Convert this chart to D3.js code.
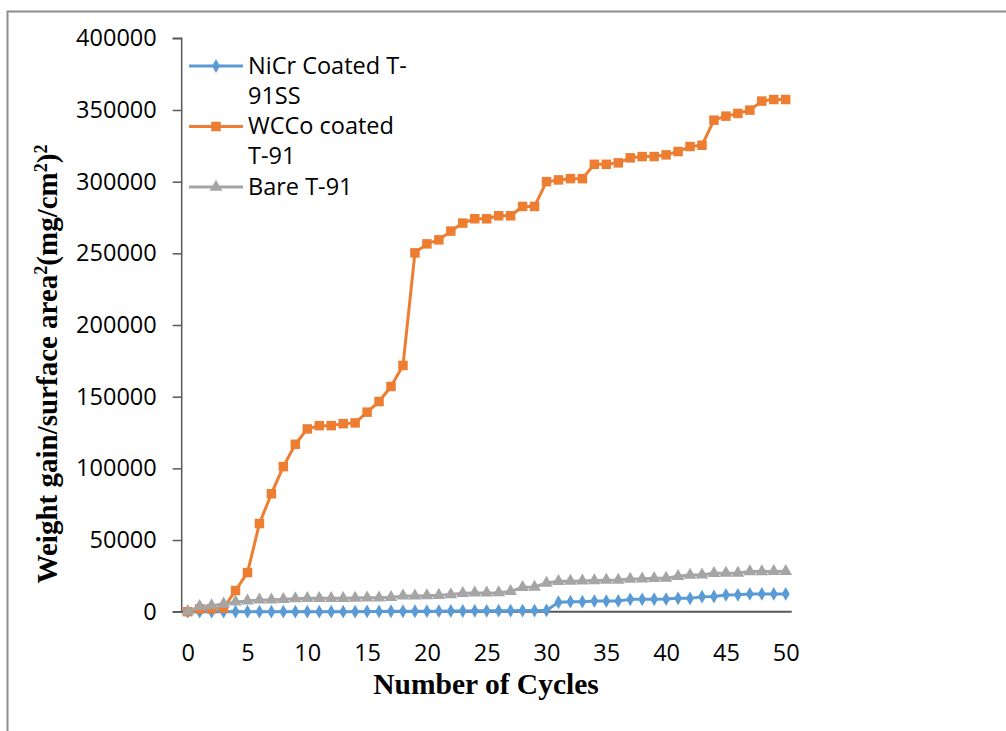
<!DOCTYPE html>
<html>
<head>
<meta charset="utf-8">
<script src="https://cdn.jsdelivr.net/npm/d3@7"></script>
<style>
  html, body { margin: 0; padding: 0; background: #fff; }
  svg { display: block; }
</style>
</head>
<body>
<svg id="chart" width="1006" height="731"></svg>
<script>
// ---- data ----
const cycles = d3.range(0, 51);
const seriesNames = ["NiCr Coated T-91SS", "WCCo coated T-91", "Bare T-91"];
const legendLines = [["NiCr Coated T-", "91SS"], ["WCCo coated", "T-91"], ["Bare T-91"]];
const nicr = [0, 0, 0, 0, 0, 0, 0, 0, 0, 0,
  0, 0, 0, 0, 0, 200, 200, 300, 300, 300,
  400, 400, 500, 500, 600, 600, 700, 700, 800, 800,
  900, 6600, 7000, 7000, 7400, 7400, 7500, 8600, 8600, 8700,
  8800, 9300, 9300, 10500, 10600, 11700, 11800, 12400, 12400, 12400, 12400];
const wcco = [0, 2000, 2000, 2500, 14800, 27300, 61500, 82300, 101200, 116800,
  127500, 129800, 129800, 131200, 131700, 139200, 146600, 157100, 171800, 250300,
  256600, 259400, 265500, 271100, 274100, 274100, 276200, 276200, 282700, 282700,
  300000, 301200, 302100, 302100, 312100, 312100, 313100, 316600, 317500, 317500,
  318700, 321000, 324500, 325400, 342900, 345700, 347600, 349900, 356200, 357300, 357300];
const bare = [0, 3700, 4200, 5400, 6800, 7500, 8200, 8200, 8600, 9100,
  9300, 9300, 9300, 9300, 9500, 9700, 9700, 10000, 11000, 11000,
  11200, 11500, 12000, 12800, 13100, 13100, 13300, 14200, 17000, 17200,
  20000, 21200, 21300, 21500, 21700, 22000, 22100, 22800, 22900, 23300,
  23400, 24700, 25600, 25700, 26800, 26900, 27000, 28000, 28000, 28100, 28200];
const yTicks = [0, 50000, 100000, 150000, 200000, 250000, 300000, 350000, 400000];
const xTickLabels = [0, 5, 10, 15, 20, 25, 30, 35, 40, 45, 50];
const colors = ["#5B9BD5", "#ED7D31", "#A5A5A5"];
const symbols = [d3.symbolDiamond, d3.symbolSquare, d3.symbolTriangle];
const symbolSizes = [55, 90, 70];
const allSeries = [nicr, wcco, bare];

// ---- layout ----
const svg = d3.select("#chart");
const plotLeft = 181.7, plotRight = 791.7, plotTop = 38.3, plotBottom = 611.7;
const x = d3.scaleLinear().domain([-0.5, 50.5]).range([plotLeft, plotRight]);
const y = d3.scaleLinear().domain([0, 400000]).range([plotBottom, plotTop]);
const sansFont = "'Open Sans', 'Liberation Sans', sans-serif";
const serifFont = "'Liberation Serif', 'DejaVu Serif', serif";

// outer frame (top and left edges)
svg.append("path")
  .attr("d", `M7.5,731 L7.5,11.5 L1006,11.5`)
  .attr("fill", "none").attr("stroke", "#8c8c8c").attr("stroke-width", 2);

// y axis
const yAxis = svg.append("g").attr("transform", `translate(${plotLeft},0)`)
  .call(d3.axisLeft(y).tickValues(yTicks).tickSize(9).tickPadding(16).tickFormat(d3.format("d")));
yAxis.select(".domain").attr("stroke", "#595959").attr("stroke-width", 1.5).attr("d", `M-9,${plotBottom}H0V${plotTop}H-9`);
yAxis.selectAll(".tick line").attr("stroke", "#595959").attr("stroke-width", 1.5);
yAxis.selectAll(".tick text").attr("font-family", sansFont).attr("font-size", 23.5).attr("fill", "#000");

// x axis
const xAxis = svg.append("g").attr("transform", `translate(0,${plotBottom})`)
  .call(d3.axisBottom(x).tickValues(xTickLabels).tickSize(0).tickPadding(33).tickFormat(d3.format("d")));
xAxis.select(".domain").attr("stroke", "#595959").attr("stroke-width", 2).attr("d", `M${plotLeft},0H${plotRight}`);
xAxis.selectAll(".tick text").attr("font-family", sansFont).attr("font-size", 23.5).attr("fill", "#000");

// lines and markers
const line = d3.line().x((d, i) => x(cycles[i])).y(d => y(d));
allSeries.forEach((vals, si) => {
  const g = svg.append("g");
  g.append("path").datum(vals).attr("d", line)
    .attr("fill", "none").attr("stroke", colors[si]).attr("stroke-width", 3).attr("stroke-linejoin", "round");
  g.selectAll("path.m").data(vals).enter().append("path").attr("class", "m")
    .attr("d", d3.symbol().type(symbols[si]).size(symbolSizes[si]))
    .attr("transform", (d, i) => `translate(${x(cycles[i])},${y(d)})`)
    .attr("fill", colors[si]);
});

// legend
const legendRows = [[73.5, 103.7], [134, 164.3], [194.5]];
legendRows.forEach((rows, si) => {
  const lineY = rows[0] - 7.5;
  svg.append("line").attr("x1", 189).attr("x2", 243).attr("y1", lineY).attr("y2", lineY)
    .attr("stroke", colors[si]).attr("stroke-width", 3);
  svg.append("path").attr("d", d3.symbol().type(symbols[si]).size(symbolSizes[si])())
    .attr("transform", `translate(216,${lineY})`).attr("fill", colors[si]);
  rows.forEach((by, li) => {
    svg.append("text").attr("x", 248).attr("y", by)
      .attr("font-family", sansFont).attr("font-size", 23.5).attr("fill", "#000")
      .text(legendLines[si][li]);
  });
});

// y axis title
const yt = svg.append("text")
  .attr("transform", `translate(57,${364}) rotate(-90)`)
  .attr("text-anchor", "middle")
  .attr("font-family", serifFont).attr("font-weight", "bold").attr("font-size", 29).attr("fill", "#000");
yt.append("tspan").text("Weight gain/surface area");
yt.append("tspan").attr("font-size", 18).attr("dy", -10).text("2");
yt.append("tspan").attr("dy", 10).text("(mg/cm");
yt.append("tspan").attr("font-size", 18).attr("dy", -10).text("2");
yt.append("tspan").attr("dy", 10).text(")");
yt.append("tspan").attr("font-size", 18).attr("dy", -10).text("2");

// x axis title
svg.append("text").attr("x", 486).attr("y", 694).attr("text-anchor", "middle")
  .attr("font-family", serifFont).attr("font-weight", "bold").attr("font-size", 29.5).attr("fill", "#000")
  .text("Number of Cycles");
</script>
</body>
</html>
